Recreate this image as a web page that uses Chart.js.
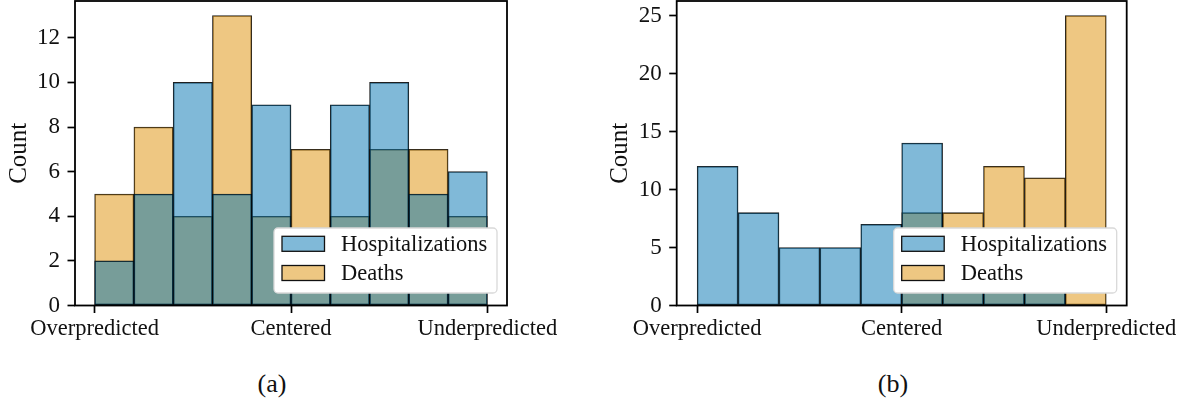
<!DOCTYPE html>
<html>
<head>
<meta charset="utf-8">
<script src="https://cdn.jsdelivr.net/npm/chart.js@4.4.1/dist/chart.umd.min.js"></script>
<style>
  html, body { margin: 0; padding: 0; background: #fff; }
  #wrap { position: relative; width: 1188px; height: 408px; overflow: hidden; }
  canvas { position: absolute; top: 0; }
  #histA { left: 0; }
  #histB { left: 600px; }
  .cap { position: absolute; top: 369px; font-family: 'Liberation Serif', serif; font-size: 26px;
         color: #111; transform: translateX(-50%); white-space: nowrap; }
</style>
</head>
<body>
<div id="wrap">
  <canvas id="histA" width="590" height="360"></canvas>
  <canvas id="histB" width="588" height="360"></canvas>
  <div class="cap" style="left:272px">(a)</div>
  <div class="cap" style="left:893px">(b)</div>
</div>
<script>
// Bin centres of the ten histogram bins spanning [-1, 1]
const binCenters = [-0.9, -0.7, -0.5, -0.3, -0.1, 0.1, 0.3, 0.5, 0.7, 0.9];
const seriesNames = ['Hospitalizations', 'Deaths'];

// Panel (a)
const hospA   = [2, 5, 10, 5, 9, 2, 9, 10, 5, 6];
const deathsA = [5, 8, 4, 13, 4, 7, 4, 7, 7, 4];
const yTicksA = [0, 2, 4, 6, 8, 10, 12];

// Panel (b)
const hospB   = [12, 8, 5, 5, 7, 14, 5, 4, 4, 0];
const deathsB = [0, 0, 0, 0, 0, 8, 8, 12, 11, 25];
const yTicksB = [0, 5, 10, 15, 20, 25];

const xTickValues = [-1, 0, 1];
const xTickLabels = ['Overpredicted', 'Centered', 'Underpredicted'];

const FONT = 'Liberation Serif';
const TEXT = '#111';

// Axes frame plus an inset legend box in the lower right
const frameAndLegend = {
  id: 'frameAndLegend',
  afterDatasetsDraw(chart) {
    const { ctx, chartArea: a } = chart;
    ctx.save();
    ctx.lineWidth = 1.8;
    ctx.strokeStyle = '#000';
    ctx.strokeRect(a.left, a.top, a.right - a.left, a.bottom - a.top);

    const w = 223, h = 65, r = 4;
    const x0 = a.right - 10 - w, y0 = a.bottom - 12.5 - h;
    ctx.beginPath();
    ctx.moveTo(x0 + r, y0);
    ctx.arcTo(x0 + w, y0, x0 + w, y0 + h, r);
    ctx.arcTo(x0 + w, y0 + h, x0, y0 + h, r);
    ctx.arcTo(x0, y0 + h, x0, y0, r);
    ctx.arcTo(x0, y0, x0 + w, y0, r);
    ctx.closePath();
    ctx.fillStyle = '#fff';
    ctx.fill();
    ctx.lineWidth = 1.3;
    ctx.strokeStyle = '#d9d9d9';
    ctx.stroke();

    chart.data.datasets.forEach((ds, i) => {
      const cy = y0 + 15.8 + i * 29.2;
      ctx.fillStyle = ds.backgroundColor;
      ctx.fillRect(x0 + 8, cy - 7.5, 42.5, 15);
      ctx.lineWidth = 1.3;
      ctx.strokeStyle = '#111';
      ctx.strokeRect(x0 + 8, cy - 7.5, 42.5, 15);
      ctx.fillStyle = TEXT;
      ctx.font = `22.5px "${FONT}"`;
      ctx.textBaseline = 'middle';
      ctx.textAlign = 'left';
      ctx.fillText(ds.label, x0 + 67, cy + 1);
    });
    ctx.restore();
  }
};

function barSet(label, values, color) {
  return {
    label,
    data: binCenters.map((x, i) => ({ x, y: values[i] })),
    backgroundColor: color,
    borderColor: 'rgba(0,0,0,0.88)',
    borderWidth: 0.85,
    borderSkipped: false,
    barPercentage: 1,
    categoryPercentage: 1,
    grouped: false
  };
}

function makeHist(canvasId, hosp, deaths, yTicks, yMax, g) {
  const tickGrid = {
    display: true, drawOnChartArea: false, drawTicks: true,
    tickLength: 7.5, tickWidth: 1.7, tickColor: '#000', color: '#000', offset: false
  };
  return new Chart(document.getElementById(canvasId), {
    type: 'bar',
    data: {
      datasets: [
        barSet(seriesNames[0], hosp, 'rgba(1,115,178,0.5)'),
        barSet(seriesNames[1], deaths, 'rgba(222,143,5,0.5)')
      ]
    },
    options: {
      responsive: false,
      animation: false,
      events: [],
      layout: { padding: { left: 0, right: g.padR, top: 1, bottom: 0 } },
      plugins: { legend: { display: false }, tooltip: { enabled: false } },
      scales: {
        x: {
          type: 'linear', min: -1.1, max: 1.1, offset: false,
          grid: tickGrid,
          border: { display: false },
          ticks: {
            color: TEXT, font: { family: FONT, size: 22.5 }, padding: 3,
            maxRotation: 0, autoSkip: false,
            callback: (v, i) => xTickLabels[i]
          },
          afterBuildTicks: s => { s.ticks = xTickValues.map(v => ({ value: v })); },
          afterFit: s => { s.height = 54.5; s.paddingLeft = 0; s.paddingRight = 0; }
        },
        y: {
          min: 0, max: yMax,
          grid: tickGrid,
          border: { display: false },
          ticks: { color: TEXT, font: { family: FONT, size: 23 }, padding: 7.5 },
          afterBuildTicks: s => { s.ticks = yTicks.map(v => ({ value: v })); },
          afterFit: s => { s.width = g.yAxisW; s.paddingTop = 0; s.paddingBottom = 0; },
          title: {
            display: true, text: 'Count', color: TEXT,
            font: { family: FONT, size: 25 }, padding: { top: g.titlePad, bottom: 0 }
          }
        }
      }
    },
    plugins: [frameAndLegend]
  });
}

function drawAll() {
  makeHist('histA', hospA, deathsA, yTicksA, 13.65, { padR: 83, yAxisW: 75, titlePad: 4 });
  makeHist('histB', hospB, deathsB, yTicksB, 26.25, { padR: 61.3, yAxisW: 76.7, titlePad: 5 });
}

if (document.fonts && document.fonts.load) {
  document.fonts.load(`22px "${FONT}"`).then(drawAll, drawAll);
} else {
  drawAll();
}
</script>
</body>
</html>
